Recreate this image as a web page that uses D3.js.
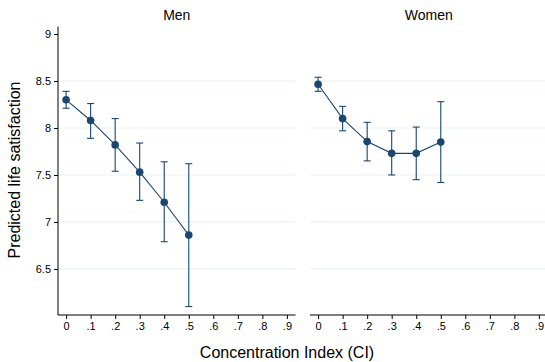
<!DOCTYPE html>
<html>
<head>
<meta charset="utf-8">
<script src="https://cdn.jsdelivr.net/npm/d3@7"></script>
<style>
  body { margin: 0; background: #fff; }
  text { font-family: "Liberation Sans", Arial, sans-serif; fill: #000; }
</style>
</head>
<body>
<div id="chart"></div>
<script>
const panels = ['Men', 'Women'];
const ciValues = [0, 0.1, 0.2, 0.3, 0.4, 0.5];
const menMean = [8.30, 8.08, 7.82, 7.53, 7.21, 6.86];
const menLow = [8.21, 7.89, 7.54, 7.23, 6.79, 6.10];
const menHigh = [8.39, 8.26, 8.10, 7.84, 7.64, 7.62];
const womenMean = [8.465, 8.10, 7.855, 7.73, 7.73, 7.85];
const womenLow = [8.39, 7.97, 7.65, 7.50, 7.45, 7.42];
const womenHigh = [8.54, 8.23, 8.06, 7.97, 8.01, 8.28];
const xTicks = [0, 0.1, 0.2, 0.3, 0.4, 0.5, 0.6, 0.7, 0.8, 0.9];
const yTicks = [6.5, 7, 7.5, 8, 8.5, 9];
const gridTicks = [6.5, 7, 7.5, 8, 8.5];

const series = {
    Men: ciValues.map((c, i) => ({ c, m: menMean[i], lo: menLow[i], hi: menHigh[i] })),
    Women: ciValues.map((c, i) => ({ c, m: womenMean[i], lo: womenLow[i], hi: womenHigh[i] })),
};

const width = 545, height = 362,
    plotTop = 26.5, plotBottom = 315,
    panelLeft = { Men: 58, Women: 310 },
    panelWidth = 237.5,
    color = '#1a476f';

const svg = d3.select('#chart')
    .append('svg')
    .attr('width', width)
    .attr('height', height);

const yScale = d3.scaleLinear().domain([6.01, 9.08]).range([plotBottom, plotTop]);
const fmt = (d) => (d === 0 ? '0' : d3.format('.1f')(d).replace(/^0/, ''));

panels.forEach((name) => {
    const x0 = panelLeft[name];
    const xScale = d3.scaleLinear().domain([-0.033, 0.935]).range([0, panelWidth]);
    const g = svg.append('g').attr('transform', `translate(${x0},0)`);

    // grid lines
    g.selectAll('.grid')
        .data(gridTicks)
        .enter()
        .append('line')
        .attr('x1', 0)
        .attr('x2', panelWidth)
        .attr('y1', (d) => yScale(d))
        .attr('y2', (d) => yScale(d))
        .attr('stroke', '#eaf2f3')
        .attr('stroke-width', 1.2);

    // x axis
    const xAxis = g.append('g')
        .attr('transform', `translate(0,${plotBottom})`)
        .call(d3.axisBottom(xScale).tickValues(xTicks).tickFormat(fmt).tickSize(4).tickPadding(3));
    xAxis.select('.domain').attr('d', `M0,0H${panelWidth}`).attr('stroke', '#000');
    xAxis.selectAll('.tick line').attr('stroke', '#000');
    xAxis.selectAll('text').style('font-size', '11px');

    // y axis only on first panel
    if (name === 'Men') {
        const yAxis = g.append('g')
            .call(d3.axisLeft(yScale).tickValues(yTicks).tickFormat(d3.format('')).tickSize(4).tickPadding(3));
        yAxis.select('.domain').attr('d', `M0,${plotTop}V${plotBottom}`).attr('stroke', '#000');
        yAxis.selectAll('.tick line').attr('stroke', '#000');
        yAxis.selectAll('text').style('font-size', '11px');
    }

    // panel title
    g.append('text')
        .attr('x', panelWidth / 2)
        .attr('y', 20)
        .attr('text-anchor', 'middle')
        .style('font-size', '14px')
        .text(name);

    const data = series[name];

    // error bars
    const bars = g.selectAll('.ci').data(data).enter().append('g');
    bars.append('line')
        .attr('x1', (d) => xScale(d.c))
        .attr('x2', (d) => xScale(d.c))
        .attr('y1', (d) => yScale(d.lo))
        .attr('y2', (d) => yScale(d.hi))
        .attr('stroke', color)
        .attr('stroke-width', 1.1);
    ['lo', 'hi'].forEach((k) => {
        bars.append('line')
            .attr('x1', (d) => xScale(d.c) - 3.5)
            .attr('x2', (d) => xScale(d.c) + 3.5)
            .attr('y1', (d) => yScale(d[k]))
            .attr('y2', (d) => yScale(d[k]))
            .attr('stroke', color)
            .attr('stroke-width', 1.1);
    });

    // connecting line
    const line = d3.line().x((d) => xScale(d.c)).y((d) => yScale(d.m));
    g.append('path')
        .datum(data)
        .attr('d', line)
        .attr('fill', 'none')
        .attr('stroke', color)
        .attr('stroke-width', 1.1);

    // markers
    g.selectAll('.pt')
        .data(data)
        .enter()
        .append('circle')
        .attr('cx', (d) => xScale(d.c))
        .attr('cy', (d) => yScale(d.m))
        .attr('r', 3.8)
        .attr('fill', color);
});

// axis titles
svg.append('text')
    .attr('x', 287)
    .attr('y', 358)
    .attr('text-anchor', 'middle')
    .style('font-size', '16px')
    .text('Concentration Index (CI)');

svg.append('text')
    .attr('transform', 'rotate(-90)')
    .attr('x', -170)
    .attr('y', 20)
    .attr('text-anchor', 'middle')
    .style('font-size', '16px')
    .text('Predicted life satisfaction');
</script>
</body>
</html>
